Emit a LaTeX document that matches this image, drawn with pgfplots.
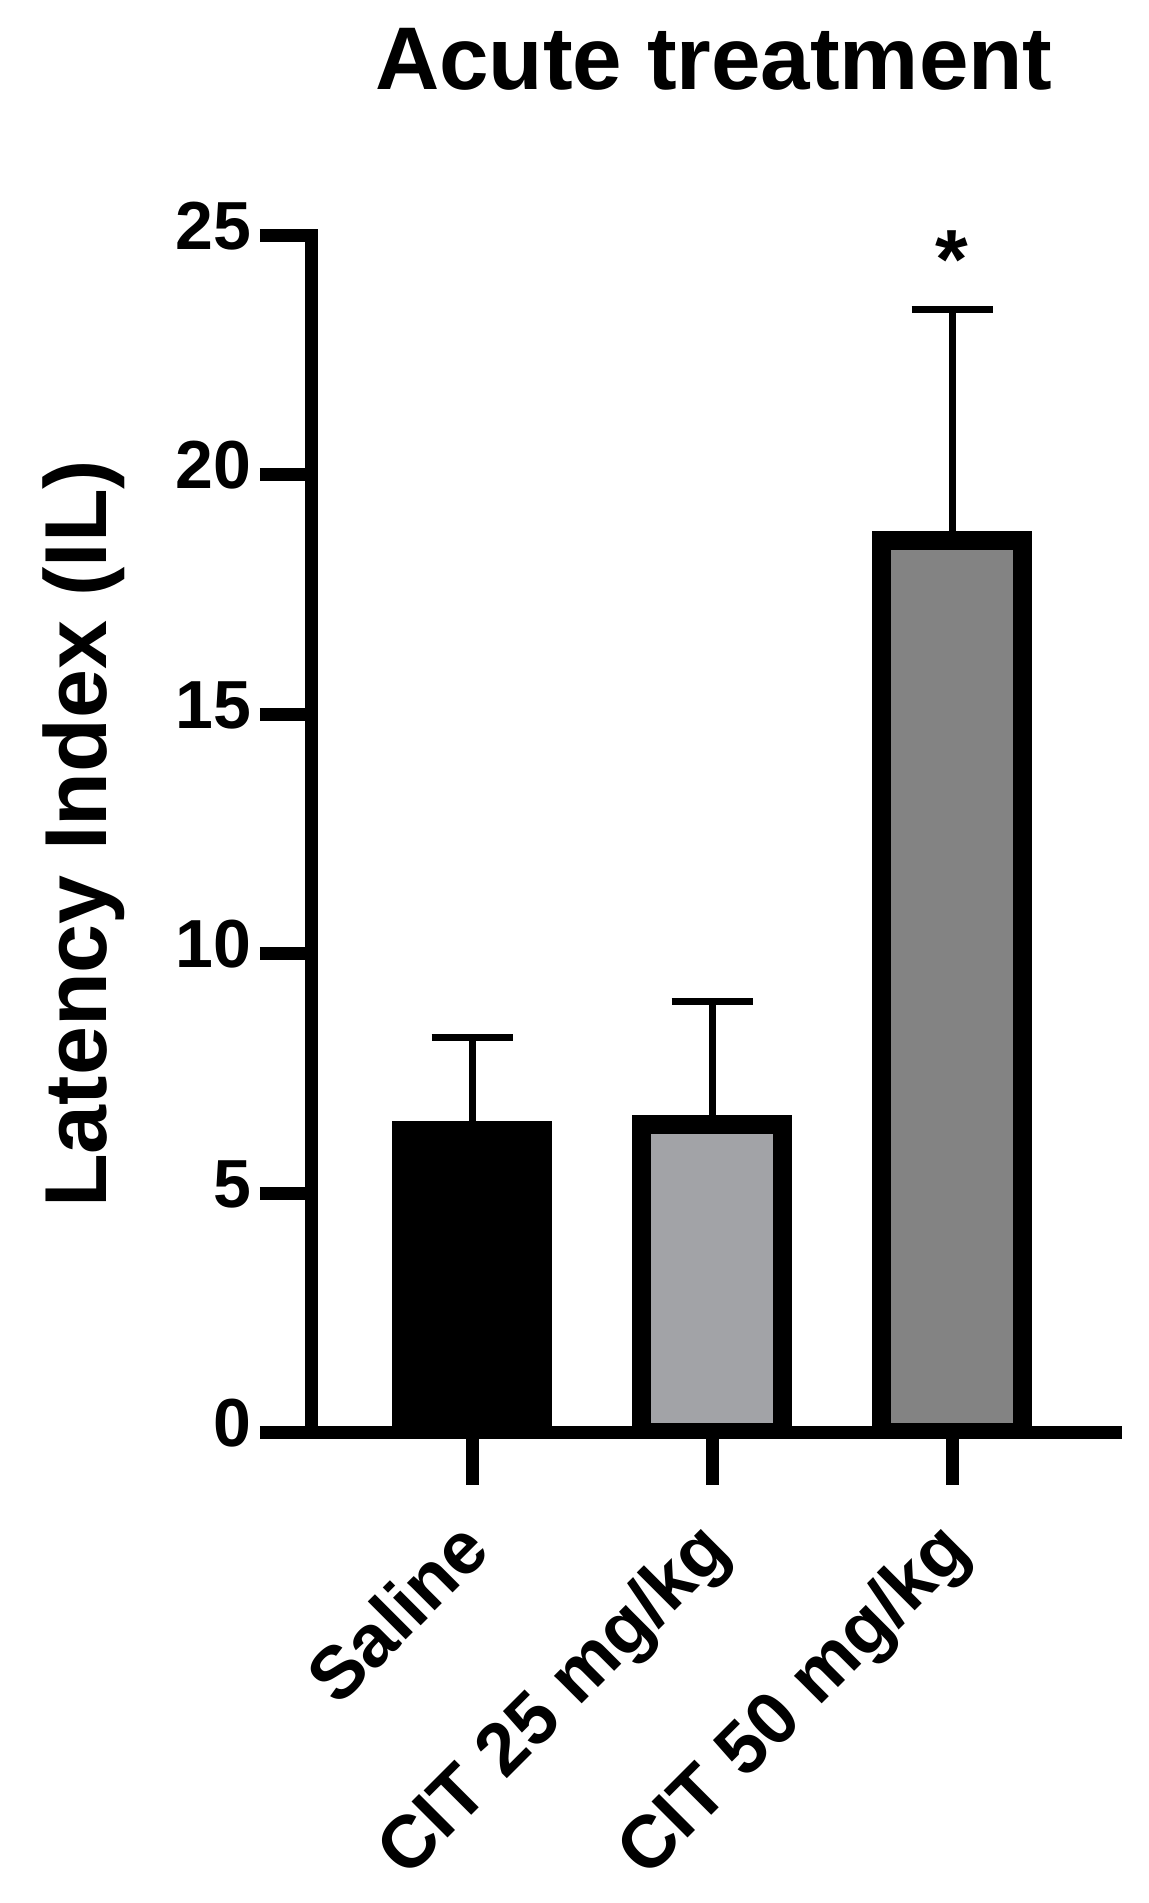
\documentclass[border=0pt]{standalone}
\usepackage{fontspec}
\setmainfont{Liberation Sans}
\usepackage{pgfplots}
\pgfplotsset{compat=1.18}
\definecolor{lgray}{RGB}{162,163,167}
\definecolor{dgray}{RGB}{131,131,131}
\begin{document}
\begin{tikzpicture}
\path[use as bounding box] (-156pt,-235.25pt) rectangle (418pt,716.25pt);
\begin{axis}[
  at={(0,0)}, anchor=south west,
  scale only axis, width=402pt, height=598.75pt,
  xmin=-0.6667, xmax=2.683, ymin=0, ymax=25,
  axis x line=bottom, axis y line=left,
  axis line style={line width=6.5pt, -, line cap=rect, black},
  xtick={0,1,2}, xticklabels={Saline, CIT 25 mg/kg, CIT 50 mg/kg},
  ytick={0,5,10,15,20,25},
  tick align=outside, major tick length=26pt,
  major tick style={line width=6.5pt, black},
  /pgf/number format/assume math mode=true,
  yticklabel style={font=\bfseries\fontsize{34}{36}\selectfont, inner sep=0pt, anchor=east, xshift=-4pt},
  xticklabel style={font=\bfseries\fontsize{37}{39}\selectfont, xshift=5pt, yshift=-29pt, rotate=45, anchor=east, inner sep=0pt},
  typeset ticklabels with strut,
  ylabel={Latency Index (IL)},
  ylabel style={font=\bfseries\fontsize{44}{46}\selectfont, at={(axis description cs:-0.256,0.5)}, anchor=base},
  title={Acute treatment},
  title style={font=\bfseries\fontsize{44.5}{46}\selectfont, at={(axis description cs:0.5,1)}, anchor=base, yshift=67pt},
  clip mode=individual,
  ybar, bar width=0.5875,
]
\addplot[fill=black, draw=black, line width=9.5pt, bar shift=0pt,
  error bars/.cd, y dir=plus, y explicit,
  error bar style={line width=3.5pt, black},
  error mark options={rotate=90, line width=3.5pt, mark size=20.25pt, black}]
  coordinates {(0,6.30) +- (0,1.95)};
\addplot[fill=lgray, draw=black, line width=9.5pt, bar shift=0pt,
  error bars/.cd, y dir=plus, y explicit,
  error bar style={line width=3.5pt, black},
  error mark options={rotate=90, line width=3.5pt, mark size=20.25pt, black}]
  coordinates {(1,6.43) +- (0,2.56)};
\addplot[fill=dgray, draw=black, line width=9.5pt, bar shift=0pt,
  error bars/.cd, y dir=plus, y explicit,
  error bar style={line width=3.5pt, black},
  error mark options={rotate=90, line width=3.5pt, mark size=20.25pt, black}]
  coordinates {(2,18.62) +- (0,4.82)};
\node[font=\bfseries\fontsize{42}{42}\selectfont, anchor=north, inner sep=0pt] at (axis cs:2,25.1) {*};
\end{axis}
\end{tikzpicture}
\end{document}
